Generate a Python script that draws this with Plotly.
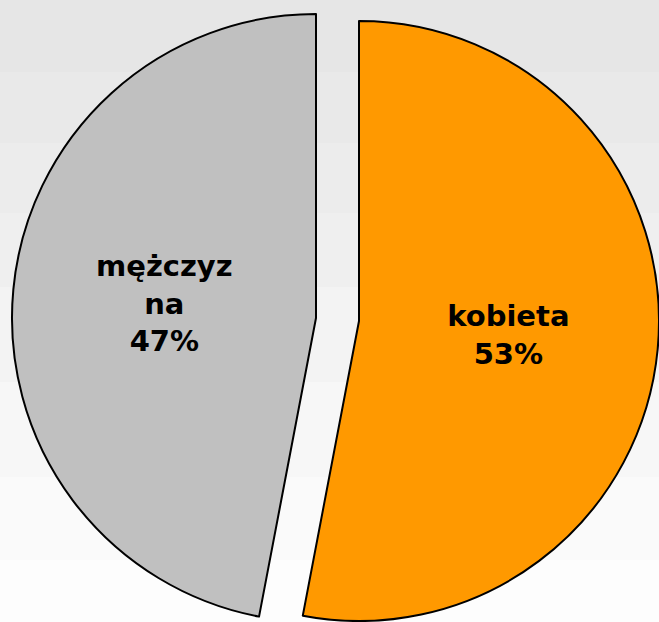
import plotly.graph_objects as go

# ---- data ----
labels = ["kobieta", "mężczyzna"]
label_text = ["kobieta", "mężczyz<br>na"]
values = [53, 47]
colors = ["#FF9900", "#C0C0C0"]

# background gradient bands (stepped, top to bottom)
band_edges = [0, 72, 143, 213, 287, 382, 477, 560, 622]
band_grey = [230, 233, 236, 239, 243, 247, 250, 253]

W, H = 659, 622
total = sum(values)
pct = [f"{round(v / total * 100)}%" for v in values]


def box(cx, cy, r):
    return dict(x=[(cx - r) / W, (cx + r) / W],
                y=[1 - (cy + r) / H, 1 - (cy - r) / H])


# exploded slices: each trace shows one slice at its own offset centre
slice_geom = [(359, 321, 300), (316, 318, 304)]

fig = go.Figure()
for i in range(len(values)):
    cx, cy, r = slice_geom[i]
    fig.add_trace(go.Pie(
        labels=labels,
        values=values,
        sort=False,
        direction="clockwise",
        rotation=0,
        domain=box(cx, cy, r),
        marker=dict(
            colors=[colors[j] if j == i else "rgba(0,0,0,0)" for j in range(len(values))],
            line=dict(color="#000000",
                      width=[2 if j == i else 0 for j in range(len(values))]),
        ),
        text=[f"{label_text[j]}<br>{pct[j]}" if j == i else "" for j in range(len(values))],
        textinfo="text",
        textposition="inside",
        insidetextorientation="horizontal",
        insidetextfont=dict(family="DejaVu Sans", size=29, color="#000000", weight="bold"),
        hoverinfo="skip",
        showlegend=False,
    ))

shapes = []
for k, g in enumerate(band_grey):
    shapes.append(dict(
        type="rect", xref="paper", yref="paper", layer="below",
        x0=0, x1=1,
        y0=1 - band_edges[k + 1] / H, y1=1 - band_edges[k] / H,
        fillcolor=f"rgb({g},{g},{g})", line=dict(width=0),
    ))

fig.update_layout(
    width=W, height=H,
    margin=dict(l=0, r=0, t=0, b=0),
    paper_bgcolor="#FFFFFF",
    shapes=shapes,
    showlegend=False,
)

fig.write_html(
    "out.html",
    config={"displayModeBar": False},
    post_script="document.body.style.margin='0';document.body.style.overflow='hidden';",
)
